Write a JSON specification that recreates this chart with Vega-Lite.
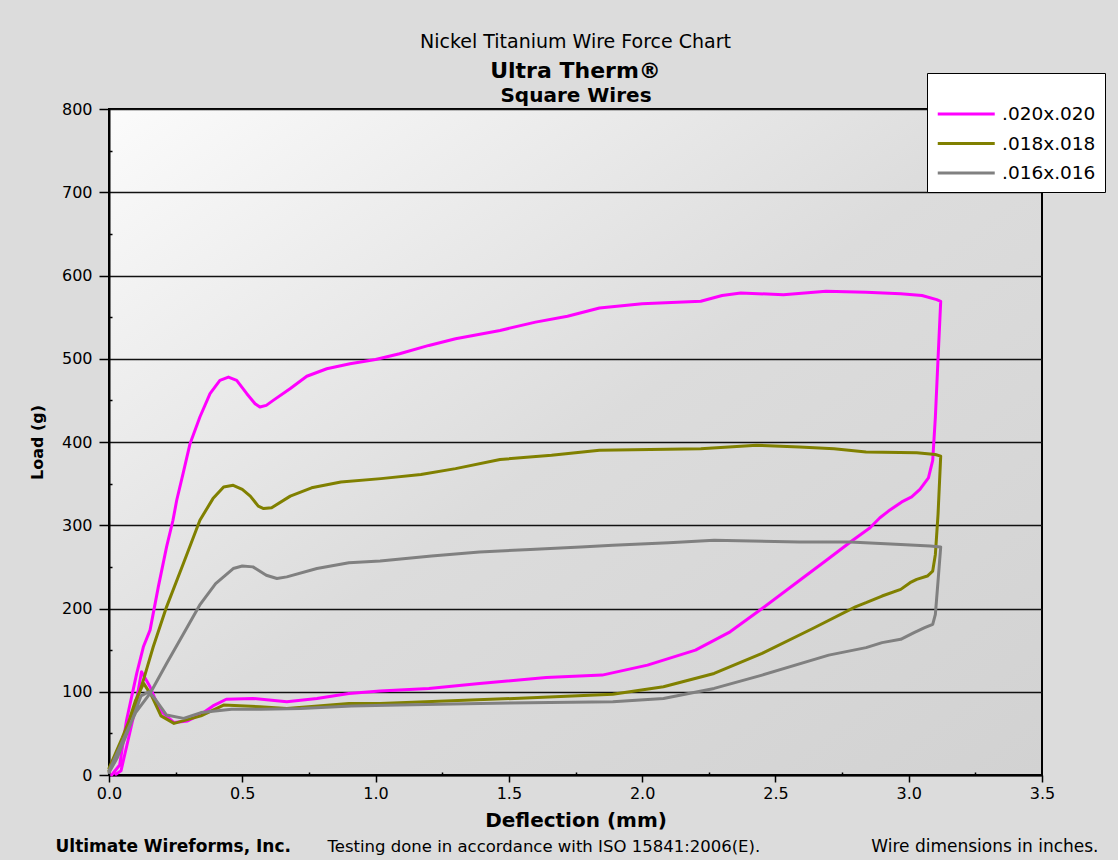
{
  "$schema": "https://vega.github.io/schema/vega-lite/v6.json",
  "width": 933,
  "height": 666,
  "autosize": {"type": "none"},
  "padding": {"left": 109, "top": 109, "right": 76, "bottom": 85},
  "background": "#dcdcdc",
  "config": {
    "font": "DejaVu Sans",
    "view": {
      "stroke": "#000000",
      "strokeWidth": 2,
      "fill": {"gradient": "linear", "x1": 0, "y1": 0, "x2": 1, "y2": 1, "stops": [{"offset": 0, "color": "#fbfbfb"}, {"offset": 0.5, "color": "#dcdcdc"}, {"offset": 1, "color": "#d2d2d2"}]}
    }
  },
  "title": {
    "text": "Nickel Titanium Wire Force Chart",
    "subtitle": "Ultra Therm®",
    "fontSize": 19,
    "fontWeight": "normal",
    "color": "#000000",
    "subtitleFontSize": 22,
    "subtitleFontWeight": "bold",
    "subtitleColor": "#000000",
    "anchor": "middle",
    "frame": "group",
    "offset": -9,
    "subtitlePadding": 9
  },
  "resolve": {"axis": {"x": "independent", "y": "independent"}},
  "layer": [
    {
      "data": {"values": [
        {"wire": ".020x.020", "i": 1, "deflection": 0.01, "load": 0},
        {"wire": ".020x.020", "i": 2, "deflection": 0.04, "load": 12},
        {"wire": ".020x.020", "i": 3, "deflection": 0.066, "load": 66},
        {"wire": ".020x.020", "i": 4, "deflection": 0.104, "load": 122},
        {"wire": ".020x.020", "i": 5, "deflection": 0.129, "load": 154},
        {"wire": ".020x.020", "i": 6, "deflection": 0.154, "load": 174},
        {"wire": ".020x.020", "i": 7, "deflection": 0.185, "load": 226},
        {"wire": ".020x.020", "i": 8, "deflection": 0.216, "load": 274},
        {"wire": ".020x.020", "i": 9, "deflection": 0.24, "load": 306},
        {"wire": ".020x.020", "i": 10, "deflection": 0.254, "load": 330},
        {"wire": ".020x.020", "i": 11, "deflection": 0.28, "load": 365},
        {"wire": ".020x.020", "i": 12, "deflection": 0.304, "load": 398},
        {"wire": ".020x.020", "i": 13, "deflection": 0.341, "load": 430},
        {"wire": ".020x.020", "i": 14, "deflection": 0.379, "load": 458},
        {"wire": ".020x.020", "i": 15, "deflection": 0.416, "load": 474},
        {"wire": ".020x.020", "i": 16, "deflection": 0.448, "load": 478},
        {"wire": ".020x.020", "i": 17, "deflection": 0.479, "load": 474},
        {"wire": ".020x.020", "i": 18, "deflection": 0.517, "load": 458},
        {"wire": ".020x.020", "i": 19, "deflection": 0.548, "load": 446},
        {"wire": ".020x.020", "i": 20, "deflection": 0.566, "load": 442},
        {"wire": ".020x.020", "i": 21, "deflection": 0.59, "load": 444},
        {"wire": ".020x.020", "i": 22, "deflection": 0.616, "load": 450},
        {"wire": ".020x.020", "i": 23, "deflection": 0.679, "load": 464},
        {"wire": ".020x.020", "i": 24, "deflection": 0.742, "load": 479},
        {"wire": ".020x.020", "i": 25, "deflection": 0.817, "load": 488},
        {"wire": ".020x.020", "i": 26, "deflection": 0.904, "load": 494},
        {"wire": ".020x.020", "i": 27, "deflection": 1.0, "load": 499},
        {"wire": ".020x.020", "i": 28, "deflection": 1.09, "load": 506},
        {"wire": ".020x.020", "i": 29, "deflection": 1.2, "load": 516},
        {"wire": ".020x.020", "i": 30, "deflection": 1.3, "load": 524},
        {"wire": ".020x.020", "i": 31, "deflection": 1.467, "load": 534},
        {"wire": ".020x.020", "i": 32, "deflection": 1.6, "load": 544},
        {"wire": ".020x.020", "i": 33, "deflection": 1.72, "load": 551},
        {"wire": ".020x.020", "i": 34, "deflection": 1.84, "load": 561},
        {"wire": ".020x.020", "i": 35, "deflection": 2.0, "load": 566},
        {"wire": ".020x.020", "i": 36, "deflection": 2.22, "load": 569},
        {"wire": ".020x.020", "i": 37, "deflection": 2.3, "load": 576},
        {"wire": ".020x.020", "i": 38, "deflection": 2.37, "load": 579},
        {"wire": ".020x.020", "i": 39, "deflection": 2.53, "load": 577},
        {"wire": ".020x.020", "i": 40, "deflection": 2.69, "load": 581},
        {"wire": ".020x.020", "i": 41, "deflection": 2.84, "load": 580},
        {"wire": ".020x.020", "i": 42, "deflection": 2.97, "load": 578},
        {"wire": ".020x.020", "i": 43, "deflection": 3.05, "load": 576},
        {"wire": ".020x.020", "i": 44, "deflection": 3.105, "load": 571},
        {"wire": ".020x.020", "i": 45, "deflection": 3.12, "load": 569},
        {"wire": ".020x.020", "i": 46, "deflection": 3.11, "load": 500},
        {"wire": ".020x.020", "i": 47, "deflection": 3.10, "load": 430},
        {"wire": ".020x.020", "i": 48, "deflection": 3.09, "load": 378},
        {"wire": ".020x.020", "i": 49, "deflection": 3.074, "load": 357},
        {"wire": ".020x.020", "i": 50, "deflection": 3.042, "load": 343},
        {"wire": ".020x.020", "i": 51, "deflection": 3.011, "load": 334},
        {"wire": ".020x.020", "i": 52, "deflection": 2.974, "load": 328},
        {"wire": ".020x.020", "i": 53, "deflection": 2.924, "load": 317},
        {"wire": ".020x.020", "i": 54, "deflection": 2.892, "load": 309},
        {"wire": ".020x.020", "i": 55, "deflection": 2.855, "load": 297},
        {"wire": ".020x.020", "i": 56, "deflection": 2.79, "load": 282},
        {"wire": ".020x.020", "i": 57, "deflection": 2.70, "load": 260},
        {"wire": ".020x.020", "i": 58, "deflection": 2.60, "load": 236},
        {"wire": ".020x.020", "i": 59, "deflection": 2.45, "load": 200},
        {"wire": ".020x.020", "i": 60, "deflection": 2.33, "load": 172},
        {"wire": ".020x.020", "i": 61, "deflection": 2.20, "load": 150},
        {"wire": ".020x.020", "i": 62, "deflection": 2.02, "load": 132},
        {"wire": ".020x.020", "i": 63, "deflection": 1.85, "load": 120},
        {"wire": ".020x.020", "i": 64, "deflection": 1.64, "load": 117},
        {"wire": ".020x.020", "i": 65, "deflection": 1.39, "load": 110},
        {"wire": ".020x.020", "i": 66, "deflection": 1.2, "load": 104},
        {"wire": ".020x.020", "i": 67, "deflection": 1.017, "load": 101},
        {"wire": ".020x.020", "i": 68, "deflection": 0.90, "load": 98},
        {"wire": ".020x.020", "i": 69, "deflection": 0.78, "load": 92},
        {"wire": ".020x.020", "i": 70, "deflection": 0.667, "load": 88},
        {"wire": ".020x.020", "i": 71, "deflection": 0.54, "load": 92},
        {"wire": ".020x.020", "i": 72, "deflection": 0.44, "load": 91},
        {"wire": ".020x.020", "i": 73, "deflection": 0.39, "load": 83},
        {"wire": ".020x.020", "i": 74, "deflection": 0.345, "load": 73},
        {"wire": ".020x.020", "i": 75, "deflection": 0.295, "load": 65},
        {"wire": ".020x.020", "i": 76, "deflection": 0.244, "load": 63},
        {"wire": ".020x.020", "i": 77, "deflection": 0.19, "load": 78},
        {"wire": ".020x.020", "i": 78, "deflection": 0.154, "load": 106},
        {"wire": ".020x.020", "i": 79, "deflection": 0.122, "load": 124},
        {"wire": ".020x.020", "i": 80, "deflection": 0.094, "load": 73},
        {"wire": ".020x.020", "i": 81, "deflection": 0.045, "load": 5},
        {"wire": ".020x.020", "i": 82, "deflection": 0.026, "load": 1},

        {"wire": ".018x.018", "i": 1, "deflection": 0.0, "load": 8},
        {"wire": ".018x.018", "i": 2, "deflection": 0.05, "load": 45},
        {"wire": ".018x.018", "i": 3, "deflection": 0.1, "load": 85},
        {"wire": ".018x.018", "i": 4, "deflection": 0.129, "load": 114},
        {"wire": ".018x.018", "i": 5, "deflection": 0.166, "load": 154},
        {"wire": ".018x.018", "i": 6, "deflection": 0.216, "load": 202},
        {"wire": ".018x.018", "i": 7, "deflection": 0.279, "load": 254},
        {"wire": ".018x.018", "i": 8, "deflection": 0.341, "load": 306},
        {"wire": ".018x.018", "i": 9, "deflection": 0.39, "load": 332},
        {"wire": ".018x.018", "i": 10, "deflection": 0.43, "load": 346},
        {"wire": ".018x.018", "i": 11, "deflection": 0.466, "load": 348},
        {"wire": ".018x.018", "i": 12, "deflection": 0.50, "load": 343},
        {"wire": ".018x.018", "i": 13, "deflection": 0.53, "load": 335},
        {"wire": ".018x.018", "i": 14, "deflection": 0.56, "load": 323},
        {"wire": ".018x.018", "i": 15, "deflection": 0.58, "load": 320},
        {"wire": ".018x.018", "i": 16, "deflection": 0.61, "load": 321},
        {"wire": ".018x.018", "i": 17, "deflection": 0.68, "load": 335},
        {"wire": ".018x.018", "i": 18, "deflection": 0.76, "load": 345},
        {"wire": ".018x.018", "i": 19, "deflection": 0.87, "load": 352},
        {"wire": ".018x.018", "i": 20, "deflection": 1.02, "load": 356},
        {"wire": ".018x.018", "i": 21, "deflection": 1.17, "load": 361},
        {"wire": ".018x.018", "i": 22, "deflection": 1.30, "load": 368},
        {"wire": ".018x.018", "i": 23, "deflection": 1.467, "load": 379},
        {"wire": ".018x.018", "i": 24, "deflection": 1.66, "load": 384},
        {"wire": ".018x.018", "i": 25, "deflection": 1.84, "load": 390},
        {"wire": ".018x.018", "i": 26, "deflection": 2.03, "load": 391},
        {"wire": ".018x.018", "i": 27, "deflection": 2.22, "load": 392},
        {"wire": ".018x.018", "i": 28, "deflection": 2.43, "load": 396},
        {"wire": ".018x.018", "i": 29, "deflection": 2.59, "load": 394},
        {"wire": ".018x.018", "i": 30, "deflection": 2.72, "load": 392},
        {"wire": ".018x.018", "i": 31, "deflection": 2.84, "load": 388},
        {"wire": ".018x.018", "i": 32, "deflection": 3.03, "load": 387},
        {"wire": ".018x.018", "i": 33, "deflection": 3.10, "load": 385},
        {"wire": ".018x.018", "i": 34, "deflection": 3.12, "load": 383},
        {"wire": ".018x.018", "i": 35, "deflection": 3.11, "load": 313},
        {"wire": ".018x.018", "i": 36, "deflection": 3.10, "load": 265},
        {"wire": ".018x.018", "i": 37, "deflection": 3.09, "load": 245},
        {"wire": ".018x.018", "i": 38, "deflection": 3.07, "load": 239},
        {"wire": ".018x.018", "i": 39, "deflection": 3.03, "load": 235},
        {"wire": ".018x.018", "i": 40, "deflection": 3.005, "load": 231},
        {"wire": ".018x.018", "i": 41, "deflection": 2.97, "load": 223},
        {"wire": ".018x.018", "i": 42, "deflection": 2.90, "load": 215},
        {"wire": ".018x.018", "i": 43, "deflection": 2.84, "load": 207},
        {"wire": ".018x.018", "i": 44, "deflection": 2.80, "load": 202},
        {"wire": ".018x.018", "i": 45, "deflection": 2.64, "load": 176},
        {"wire": ".018x.018", "i": 46, "deflection": 2.45, "load": 146},
        {"wire": ".018x.018", "i": 47, "deflection": 2.27, "load": 122},
        {"wire": ".018x.018", "i": 48, "deflection": 2.08, "load": 106},
        {"wire": ".018x.018", "i": 49, "deflection": 1.89, "load": 97},
        {"wire": ".018x.018", "i": 50, "deflection": 1.52, "load": 92},
        {"wire": ".018x.018", "i": 51, "deflection": 1.017, "load": 86},
        {"wire": ".018x.018", "i": 52, "deflection": 0.90, "load": 86},
        {"wire": ".018x.018", "i": 53, "deflection": 0.667, "load": 80},
        {"wire": ".018x.018", "i": 54, "deflection": 0.566, "load": 82},
        {"wire": ".018x.018", "i": 55, "deflection": 0.43, "load": 84},
        {"wire": ".018x.018", "i": 56, "deflection": 0.345, "load": 71},
        {"wire": ".018x.018", "i": 57, "deflection": 0.244, "load": 62},
        {"wire": ".018x.018", "i": 58, "deflection": 0.195, "load": 71},
        {"wire": ".018x.018", "i": 59, "deflection": 0.16, "load": 95},
        {"wire": ".018x.018", "i": 60, "deflection": 0.13, "load": 110},
        {"wire": ".018x.018", "i": 61, "deflection": 0.10, "load": 90},
        {"wire": ".018x.018", "i": 62, "deflection": 0.05, "load": 40},
        {"wire": ".018x.018", "i": 63, "deflection": 0.0, "load": 5},

        {"wire": ".016x.016", "i": 1, "deflection": 0.0, "load": 5},
        {"wire": ".016x.016", "i": 2, "deflection": 0.05, "load": 40},
        {"wire": ".016x.016", "i": 3, "deflection": 0.10, "load": 75},
        {"wire": ".016x.016", "i": 4, "deflection": 0.154, "load": 98},
        {"wire": ".016x.016", "i": 5, "deflection": 0.216, "load": 134},
        {"wire": ".016x.016", "i": 6, "deflection": 0.28, "load": 170},
        {"wire": ".016x.016", "i": 7, "deflection": 0.34, "load": 204},
        {"wire": ".016x.016", "i": 8, "deflection": 0.40, "load": 230},
        {"wire": ".016x.016", "i": 9, "deflection": 0.466, "load": 248},
        {"wire": ".016x.016", "i": 10, "deflection": 0.50, "load": 251},
        {"wire": ".016x.016", "i": 11, "deflection": 0.54, "load": 250},
        {"wire": ".016x.016", "i": 12, "deflection": 0.59, "load": 240},
        {"wire": ".016x.016", "i": 13, "deflection": 0.63, "load": 236},
        {"wire": ".016x.016", "i": 14, "deflection": 0.667, "load": 238},
        {"wire": ".016x.016", "i": 15, "deflection": 0.78, "load": 248},
        {"wire": ".016x.016", "i": 16, "deflection": 0.90, "load": 255},
        {"wire": ".016x.016", "i": 17, "deflection": 1.017, "load": 257},
        {"wire": ".016x.016", "i": 18, "deflection": 1.21, "load": 263},
        {"wire": ".016x.016", "i": 19, "deflection": 1.39, "load": 268},
        {"wire": ".016x.016", "i": 20, "deflection": 1.58, "load": 271},
        {"wire": ".016x.016", "i": 21, "deflection": 1.77, "load": 274},
        {"wire": ".016x.016", "i": 22, "deflection": 1.89, "load": 276},
        {"wire": ".016x.016", "i": 23, "deflection": 2.1, "load": 279},
        {"wire": ".016x.016", "i": 24, "deflection": 2.27, "load": 282},
        {"wire": ".016x.016", "i": 25, "deflection": 2.41, "load": 281},
        {"wire": ".016x.016", "i": 26, "deflection": 2.59, "load": 280},
        {"wire": ".016x.016", "i": 27, "deflection": 2.78, "load": 280},
        {"wire": ".016x.016", "i": 28, "deflection": 2.97, "load": 277},
        {"wire": ".016x.016", "i": 29, "deflection": 3.08, "load": 275},
        {"wire": ".016x.016", "i": 30, "deflection": 3.12, "load": 274},
        {"wire": ".016x.016", "i": 31, "deflection": 3.11, "load": 233},
        {"wire": ".016x.016", "i": 32, "deflection": 3.10, "load": 193},
        {"wire": ".016x.016", "i": 33, "deflection": 3.09, "load": 181},
        {"wire": ".016x.016", "i": 34, "deflection": 3.06, "load": 177},
        {"wire": ".016x.016", "i": 35, "deflection": 3.02, "load": 171},
        {"wire": ".016x.016", "i": 36, "deflection": 2.97, "load": 163},
        {"wire": ".016x.016", "i": 37, "deflection": 2.90, "load": 159},
        {"wire": ".016x.016", "i": 38, "deflection": 2.84, "load": 153},
        {"wire": ".016x.016", "i": 39, "deflection": 2.70, "load": 144},
        {"wire": ".016x.016", "i": 40, "deflection": 2.45, "load": 120},
        {"wire": ".016x.016", "i": 41, "deflection": 2.27, "load": 104},
        {"wire": ".016x.016", "i": 42, "deflection": 2.08, "load": 92},
        {"wire": ".016x.016", "i": 43, "deflection": 1.89, "load": 88},
        {"wire": ".016x.016", "i": 44, "deflection": 1.39, "load": 86},
        {"wire": ".016x.016", "i": 45, "deflection": 1.09, "load": 84},
        {"wire": ".016x.016", "i": 46, "deflection": 0.91, "load": 83},
        {"wire": ".016x.016", "i": 47, "deflection": 0.72, "load": 80},
        {"wire": ".016x.016", "i": 48, "deflection": 0.57, "load": 79},
        {"wire": ".016x.016", "i": 49, "deflection": 0.46, "load": 79},
        {"wire": ".016x.016", "i": 50, "deflection": 0.345, "load": 75},
        {"wire": ".016x.016", "i": 51, "deflection": 0.28, "load": 68},
        {"wire": ".016x.016", "i": 52, "deflection": 0.216, "load": 72},
        {"wire": ".016x.016", "i": 53, "deflection": 0.176, "load": 90},
        {"wire": ".016x.016", "i": 54, "deflection": 0.15, "load": 100},
        {"wire": ".016x.016", "i": 55, "deflection": 0.12, "load": 95},
        {"wire": ".016x.016", "i": 56, "deflection": 0.08, "load": 60},
        {"wire": ".016x.016", "i": 57, "deflection": 0.03, "load": 20},
        {"wire": ".016x.016", "i": 58, "deflection": 0.0, "load": 3}
      ]},
      "mark": {"type": "line", "strokeWidth": 3, "strokeJoin": "round", "strokeCap": "round"},
      "encoding": {
        "x": {
          "field": "deflection", "type": "quantitative",
          "scale": {"domain": [0, 3.5], "nice": false, "zero": false},
          "axis": {
            "orient": "bottom", "values": [0, 0.5, 1, 1.5, 2, 2.5, 3, 3.5], "format": ".1f",
            "domainColor": "#000000", "domainWidth": 2,
            "tickColor": "#000000", "tickWidth": 1.5, "tickSize": 7,
            "labelFontSize": 16, "labelColor": "#000000", "labelPadding": 3, "labelFlush": false, "labelOverlap": false,
            "grid": false,
            "title": "Deflection (mm)", "titleFontSize": 20, "titleFontWeight": "bold", "titleColor": "#000000",
            "titleY": 51, "titleBaseline": "alphabetic"
          }
        },
        "y": {
          "field": "load", "type": "quantitative",
          "scale": {"domain": [0, 800], "nice": false},
          "axis": {
            "orient": "left", "values": [0, 100, 200, 300, 400, 500, 600, 700, 800],
            "domainColor": "#000000", "domainWidth": 2,
            "tickColor": "#000000", "tickWidth": 1.5, "tickSize": 10,
            "labelFontSize": 16, "labelColor": "#000000", "labelPadding": 7,
            "grid": true, "gridColor": "#111111", "gridWidth": 1.5,
            "title": "Load (g)", "titleFontSize": 16, "titleFontWeight": "bold", "titleColor": "#000000", "titlePadding": 16
          }
        },
        "color": {
          "field": "wire", "type": "nominal",
          "scale": {"domain": [".020x.020", ".018x.018", ".016x.016"], "range": ["#ff00ff", "#808000", "#808080"]},
          "legend": {
            "orient": "none", "legendX": 818, "legendY": -36,
            "title": " ", "titleFontSize": 8, "titlePadding": 8,
            "symbolType": "M-1,0H3", "symbolSize": 812, "symbolStrokeWidth": 3,
            "labelFontSize": 18.5, "labelColor": "#000000", "labelOffset": 34, "labelLimit": 200,
            "rowPadding": 3.5, "padding": 9,
            "fillColor": "#ffffff", "strokeColor": "#000000"
          }
        },
        "order": {"field": "i", "type": "quantitative"}
      }
    },
    {
      "data": {"values": [{}]},
      "mark": {"type": "point", "opacity": 0},
      "encoding": {
        "x": {
          "datum": 0, "type": "quantitative",
          "axis": {
            "orient": "bottom", "values": [0.25, 0.75, 1.25, 1.75, 2.25, 2.75, 3.25],
            "domain": false, "labels": false, "grid": false,
            "tickSize": -3, "tickColor": "#000000", "tickWidth": 1.5,
            "title": "Ultimate Wireforms, Inc.", "titleFontSize": 17, "titleFontWeight": "bold", "titleColor": "#000000",
            "titleX": -54, "titleY": 76, "titleAlign": "left", "titleBaseline": "alphabetic"
          }
        },
        "y": {
          "datum": 0, "type": "quantitative",
          "axis": {
            "orient": "left", "values": [50, 150, 250, 350, 450, 550, 650, 750],
            "domain": false, "labels": false, "grid": false,
            "tickSize": -3, "tickColor": "#000000", "tickWidth": 1.5,
            "title": null
          }
        }
      }
    },
    {
      "data": {"values": [{}]},
      "mark": {"type": "point", "opacity": 0},
      "encoding": {
        "x": {
          "datum": 0, "type": "quantitative",
          "axis": {
            "orient": "bottom", "domain": false, "labels": false, "ticks": false, "grid": false,
            "title": "Testing done in accordance with ISO 15841:2006(E).", "titleFontSize": 16.5, "titleFontWeight": "normal", "titleColor": "#000000",
            "titleX": 218, "titleY": 76, "titleAlign": "left", "titleBaseline": "alphabetic"
          }
        }
      }
    },
    {
      "data": {"values": [{}]},
      "mark": {"type": "point", "opacity": 0},
      "encoding": {
        "x": {
          "datum": 0, "type": "quantitative",
          "axis": {
            "orient": "bottom", "domain": false, "labels": false, "ticks": false, "grid": false,
            "title": "Wire dimensions in inches.", "titleFontSize": 17, "titleFontWeight": "normal", "titleColor": "#000000",
            "titleX": 989, "titleY": 76, "titleAlign": "right", "titleBaseline": "alphabetic"
          }
        }
      }
    },
    {
      "data": {"values": [{}]},
      "mark": {"type": "point", "opacity": 0},
      "encoding": {
        "x": {
          "datum": 0, "type": "quantitative",
          "axis": {
            "orient": "top", "domain": false, "labels": false, "ticks": false, "grid": false,
            "title": "Square Wires", "titleFontSize": 20, "titleFontWeight": "bold", "titleColor": "#000000",
            "titleX": 466.5, "titleY": -8, "titleAlign": "center", "titleBaseline": "alphabetic"
          }
        }
      }
    }
  ]
}
